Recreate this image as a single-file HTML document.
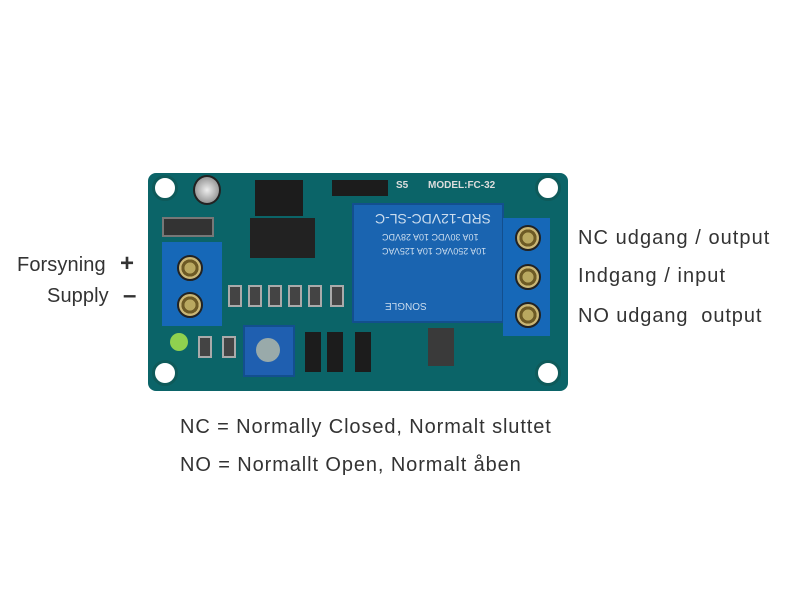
<!DOCTYPE html>
<html><head><style>
body{margin:0;width:800px;height:600px;background:#fff;position:relative;overflow:hidden;font-family:"Liberation Sans",sans-serif}
div{position:absolute;box-sizing:border-box}
.t{font-size:20px;color:#333;white-space:nowrap;line-height:1}
.hole{width:26px;height:26px;border-radius:50%;background:#fff;border:3px solid #0e5a5a}
.scr{width:26px;height:26px;border-radius:50%;background:radial-gradient(circle,#b9a860 0 35%,#6d5a25 36% 55%,#c9b675 56%);border:2px solid #222}
.smd{width:14px;height:22px;background:#444;border:2px solid #aaa}
</style></head><body>
<div style="left:148px;top:173px;width:420px;height:218px;background:#0b6468;border-radius:8px"></div>
<div class="hole" style="left:152px;top:175px"></div>
<div class="hole" style="left:535px;top:175px"></div>
<div class="hole" style="left:152px;top:360px"></div>
<div class="hole" style="left:535px;top:360px"></div>
<div style="left:193px;top:175px;width:28px;height:30px;border-radius:50%;background:radial-gradient(circle,#eee,#777);border:2px solid #222"></div>
<div style="left:162px;top:217px;width:52px;height:20px;background:#333;border:2px solid #777"></div>
<div style="left:250px;top:218px;width:65px;height:40px;background:#222"></div>
<div style="left:255px;top:180px;width:48px;height:36px;background:#1c1c1c"></div>
<div style="left:332px;top:180px;width:56px;height:16px;background:#1c1c1c"></div>
<div class="t" style="left:428px;top:181px;font-size:10px;color:#ddd;font-weight:bold">MODEL:FC-32</div>
<div class="t" style="left:396px;top:181px;font-size:10px;color:#ddd;font-weight:bold">S5</div>
<div style="left:352px;top:203px;width:152px;height:120px;background:#1a64b0;border:2px solid #134f8e"></div>
<div class="t" style="left:375px;top:212px;font-size:14px;color:#cde;transform:rotate(180deg)">SRD-12VDC-SL-C</div>
<div class="t" style="left:382px;top:232px;font-size:9px;color:#cde;transform:rotate(180deg)">10A 30VDC 10A 28VDC</div>
<div class="t" style="left:382px;top:246px;font-size:9px;color:#cde;transform:rotate(180deg)">10A 250VAC 10A 125VAC</div>
<div class="t" style="left:385px;top:300px;font-size:10px;color:#cde;transform:rotate(180deg)">SONGLE</div>
<div style="left:503px;top:218px;width:47px;height:118px;background:#1668b8"></div>
<div class="scr" style="left:515px;top:225px"></div>
<div class="scr" style="left:515px;top:264px"></div>
<div class="scr" style="left:515px;top:302px"></div>
<div style="left:162px;top:242px;width:60px;height:84px;background:#1668b8"></div>
<div class="scr" style="left:177px;top:255px"></div>
<div class="scr" style="left:177px;top:292px"></div>
<div class="smd" style="left:228px;top:285px"></div>
<div class="smd" style="left:248px;top:285px"></div>
<div class="smd" style="left:268px;top:285px"></div>
<div class="smd" style="left:288px;top:285px"></div>
<div class="smd" style="left:308px;top:285px"></div>
<div class="smd" style="left:330px;top:285px"></div>
<div style="left:170px;top:333px;width:18px;height:18px;border-radius:50%;background:#8fd14f"></div>
<div class="smd" style="left:198px;top:336px"></div>
<div class="smd" style="left:222px;top:336px"></div>
<div style="left:243px;top:325px;width:52px;height:52px;background:#1f5fb0;border:2px solid #134f8e"></div>
<div style="left:256px;top:338px;width:24px;height:24px;border-radius:50%;background:#9aa"></div>
<div style="left:305px;top:332px;width:16px;height:40px;background:#1c1c1c"></div>
<div style="left:327px;top:332px;width:16px;height:40px;background:#1c1c1c"></div>
<div style="left:355px;top:332px;width:16px;height:40px;background:#1c1c1c"></div>
<div style="left:428px;top:328px;width:26px;height:38px;background:#3a3a3a"></div>
<div class="t" style="left:17px;top:255px;letter-spacing:0.1px">Forsyning</div>
<div class="t" style="left:120px;top:252px;font-size:24px;font-weight:bold">+</div>
<div class="t" style="left:47px;top:286px;letter-spacing:0.1px">Supply</div>
<div class="t" style="left:123px;top:284px;font-size:24px;font-weight:bold">–</div>
<div class="t" style="left:578px;top:228px;letter-spacing:1.05px">NC udgang / output</div>
<div class="t" style="left:578px;top:266px;letter-spacing:1.05px">Indgang / input</div>
<div class="t" style="left:578px;top:306px;letter-spacing:0.9px">NO udgang &nbsp;output</div>
<div class="t" style="left:180px;top:417px;letter-spacing:0.9px">NC = Normally Closed, Normalt sluttet</div>
<div class="t" style="left:180px;top:455px;letter-spacing:0.9px">NO = Normallt Open, Normalt åben</div>
</body></html>
